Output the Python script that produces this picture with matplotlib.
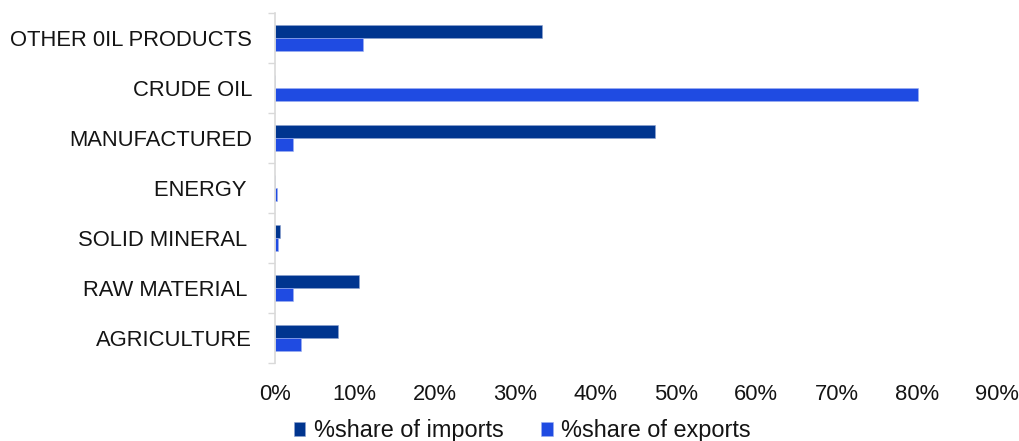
import matplotlib
matplotlib.use("Agg")
import matplotlib.pyplot as plt
import numpy as np

plt.rcParams['font.family'] = ['Liberation Sans', 'DejaVu Sans']

categories = ["OTHER 0IL PRODUCTS", "CRUDE OIL", "MANUFACTURED", "ENERGY ",
              "SOLID MINERAL ", "RAW MATERIAL ", "AGRICULTURE"]
imports_share = [33.3, 0.0, 47.4, 0.0, 0.7, 10.5, 7.9]
exports_share = [11.0, 80.2, 2.3, 0.3, 0.4, 2.3, 3.3]
x_ticks = [0, 10, 20, 30, 40, 50, 60, 70, 80, 90]
x_tick_labels = [f"{v}%" for v in x_ticks]

color_imports = "#00358F"
color_exports = "#1F4BE2"

fig = plt.figure(figsize=(10.19, 4.41), dpi=100)
ax = fig.add_axes([274.5 / 1019, 1 - 363 / 441, (997 - 274.5) / 1019, 350 / 441])

y = np.arange(len(categories))
h = 0.26
ax.barh(y - h / 2, imports_share, height=h, color=color_imports,
        edgecolor="#8FA3D0", linewidth=0.4, label="%share of imports")
ax.barh(y + h / 2, exports_share, height=h, color=color_exports,
        edgecolor="#9DB0F0", linewidth=0.4, label="%share of exports")

ax.set_ylim(len(categories) - 0.5, -0.5)
ax.set_xlim(0, 90)

ax.set_yticks(y)
ax.set_yticklabels(categories, fontsize=15.8, color="#141414")
ax.set_yticks(np.arange(-0.5, len(categories)), minor=True)
ax.tick_params(axis='y', which='major', length=0, pad=16)
ax.tick_params(axis='y', which='minor', length=5, width=1, color="#D9D9D9")

ax.set_xticks(x_ticks)
ax.set_xticklabels(x_tick_labels, fontsize=15.8, color="#141414")
ax.tick_params(axis='x', length=0, pad=15)

for side in ("top", "right", "bottom"):
    ax.spines[side].set_visible(False)
ax.spines["left"].set_color("#D9D9D9")
ax.spines["left"].set_linewidth(1.2)

fig.legend(loc="center", bbox_to_anchor=(522 / 1019, 1 - 431 / 441), ncol=2,
           frameon=False, fontsize=16.9, handlelength=0.5, handleheight=0.5,
           handletextpad=0.35, columnspacing=1.6, labelcolor="#141414")

fig.savefig("out.png", dpi=100)
